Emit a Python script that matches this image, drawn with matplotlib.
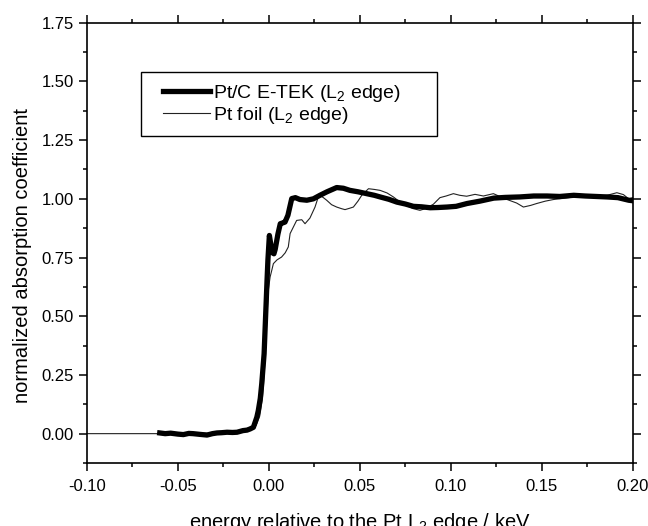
import numpy as np
import matplotlib
matplotlib.use('Agg')
import matplotlib.pyplot as plt
from matplotlib.ticker import MultipleLocator
from matplotlib.patches import Rectangle

plt.rcParams['font.family'] = ['Liberation Sans', 'DejaVu Sans']
plt.rcParams['mathtext.default'] = 'regular'

# Pt/C E-TEK, L2 edge (thick line)
etek_x = [-0.060, -0.057, -0.054, -0.050, -0.047, -0.044, -0.0417, -0.038, -0.034, -0.031,
          -0.0285, -0.026, -0.023, -0.020, -0.0175, -0.0142, -0.012, -0.0103, -0.0085, -0.0066,
          -0.0058, -0.0047, -0.0039, -0.0026, -0.0015, -0.0010, -0.0005, 0.0003, 0.0012, 0.0020,
          0.0028, 0.0035, 0.0050, 0.0063, 0.0075, 0.0089, 0.0105, 0.0126, 0.0146, 0.0171,
          0.0209, 0.0245, 0.0281, 0.0320, 0.0373, 0.0410, 0.0446, 0.0490, 0.0538, 0.0580,
          0.0612, 0.0660, 0.0704, 0.0750, 0.0795, 0.0840, 0.0887, 0.0930, 0.0980, 0.1030,
          0.1090, 0.1160, 0.1237, 0.1300, 0.1380, 0.1457, 0.1530, 0.1600, 0.1677, 0.1740,
          0.1800, 0.1860, 0.1920, 0.1979, 0.2000]
etek_y = [0.003, 0.000, 0.002, -0.002, -0.004, 0.001, 0.000, -0.003, -0.006, 0.000,
          0.003, 0.004, 0.006, 0.005, 0.006, 0.013, 0.015, 0.020, 0.027, 0.070,
          0.098, 0.150, 0.212, 0.340, 0.553, 0.650, 0.740, 0.844, 0.800, 0.770,
          0.766, 0.785, 0.850, 0.894, 0.897, 0.901, 0.930, 1.001, 1.005, 0.997,
          0.994, 1.000, 1.015, 1.030, 1.048, 1.045, 1.036, 1.030, 1.022, 1.015,
          1.008, 0.998, 0.986, 0.978, 0.968, 0.966, 0.962, 0.963, 0.965, 0.968,
          0.980, 0.990, 1.003, 1.006, 1.008, 1.012, 1.012, 1.010, 1.015, 1.012,
          1.010, 1.008, 1.005, 0.994, 0.992]

# Pt foil, L2 edge (thin line)
foil_x = [-0.100, -0.060, -0.030, -0.015, -0.012, -0.009, -0.007, -0.005, -0.0035, -0.0025,
          -0.0015, -0.0003, 0.0007, 0.0016, 0.0025, 0.0045, 0.0070, 0.0090, 0.0107, 0.0117,
          0.0135, 0.0153, 0.0181, 0.0199, 0.0226, 0.0254, 0.0272, 0.0281, 0.0300, 0.0318,
          0.0345, 0.0373, 0.0400, 0.0419, 0.0445, 0.0465, 0.0490, 0.0511, 0.0548, 0.0580,
          0.0612, 0.0650, 0.0685, 0.0722, 0.0760, 0.0795, 0.0831, 0.0860, 0.0905, 0.0941,
          0.0975, 0.1015, 0.1050, 0.1088, 0.1134, 0.1180, 0.1235, 0.1270, 0.1300, 0.1363,
          0.1400, 0.1440, 0.1473, 0.1520, 0.1565, 0.1620, 0.1680, 0.1740, 0.1800, 0.1860,
          0.1914, 0.1950, 0.1979, 0.2000]
foil_y = [0.000, 0.000, 0.002, 0.006, 0.012, 0.020, 0.035, 0.075, 0.150, 0.260,
          0.420, 0.610, 0.667, 0.695, 0.724, 0.740, 0.752, 0.770, 0.795, 0.852,
          0.880, 0.908, 0.911, 0.894, 0.918, 0.965, 1.008, 1.015, 1.005, 0.994,
          0.975, 0.965, 0.958, 0.954, 0.960, 0.965, 0.990, 1.015, 1.043, 1.040,
          1.036, 1.025, 1.008, 0.986, 0.970, 0.958, 0.951, 0.958, 0.977, 1.005,
          1.012, 1.022, 1.015, 1.011, 1.019, 1.012, 1.022, 1.010, 1.000, 0.982,
          0.965, 0.972, 0.980, 0.990, 0.997, 1.002, 1.008, 1.010, 1.012, 1.015,
          1.026, 1.018, 1.000, 1.005]

W, H = 648, 526
fig = plt.figure(figsize=(W / 100, H / 100), dpi=100)
ax = fig.add_axes([87 / W, 1 - 463 / H, 545.5 / W, (463 - 22.7) / H])

ax.plot(foil_x, foil_y, color='#222222', lw=0.8, label='Pt foil (L$_2$ edge)', zorder=2)
ax.plot(etek_x, etek_y, color='black', lw=3.8, solid_joinstyle='round',
        label='Pt/C E-TEK (L$_2$ edge)', zorder=3)

ax.set_xlim(-0.10, 0.20)
ax.set_ylim(-0.125, 1.75)
ax.xaxis.set_major_locator(MultipleLocator(0.05))
ax.xaxis.set_minor_locator(MultipleLocator(0.025))
ax.yaxis.set_major_locator(MultipleLocator(0.25))
ax.yaxis.set_minor_locator(MultipleLocator(0.125))
ax.xaxis.set_major_formatter(plt.FuncFormatter(lambda v, p: '%.2f' % v))
ax.yaxis.set_major_formatter(plt.FuncFormatter(lambda v, p: '%.2f' % v))

ax.tick_params(which='both', direction='out', top=True, right=True, width=1.1, labelsize=12)
ax.tick_params(which='major', length=5.5)
ax.tick_params(which='minor', length=3)
ax.tick_params(axis='x', pad=6)
ax.tick_params(axis='y', pad=4)
for s in ax.spines.values():
    s.set_linewidth(1.2)

ax.set_xlabel('energy relative to the Pt L$_2$ edge / keV', fontsize=14.5, labelpad=12)
ax.set_ylabel('normalized absorption coefficient', fontsize=14.5)
ax.yaxis.set_label_coords(-0.100, 0.472)

# legend box drawn by hand so the side padding can differ from the top one
ax.add_patch(Rectangle((141 / W, 1 - 136 / H), 296 / W, 64 / H, transform=fig.transFigure,
                       facecolor='white', edgecolor='black', lw=1.0, clip_on=False, zorder=4))
handles, labels = ax.get_legend_handles_labels()
leg = ax.legend(handles[::-1], labels[::-1], loc='upper left',
                bbox_to_anchor=(163 / W, 1 - 83 / H), bbox_transform=fig.transFigure,
                borderaxespad=0, borderpad=0, fontsize=14, handlelength=2.4,
                handletextpad=0.15, labelspacing=0.05, frameon=False)
leg.set_zorder(5)

fig.savefig('out.png', dpi=100)
